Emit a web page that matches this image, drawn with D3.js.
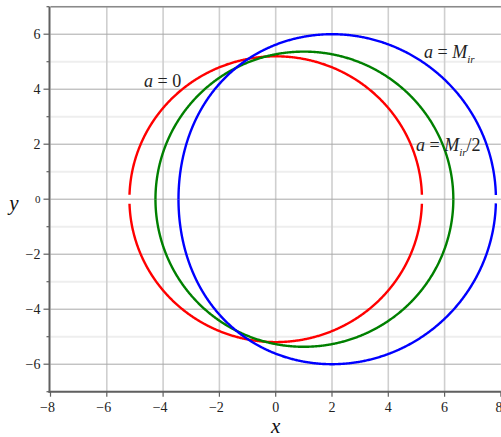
<!DOCTYPE html>
<html>
<head>
<meta charset="utf-8">
<script src="https://cdn.jsdelivr.net/npm/d3@7"></script>
<style>
  html, body { margin: 0; padding: 0; background: #fff; }
  svg { display: block; }
  text { font-family: "Liberation Serif", "Times New Roman", serif; }
</style>
</head>
<body>
<svg id="chart" width="501" height="437"></svg>
<script>
// Shadow outlines of a rotating black hole, spin given in units of the irreducible mass
const spins = [0, 0.5, 1];                       // a / M_ir
const seriesColors = ["#ff0000", "#008000", "#0000ff"];
const tipGaps = [[0.14, 0.14], [0, 0], [0, 0.14]]; // unplotted half-height at left/right tips
const xTicks = [-8, -6, -4, -2, 0, 2, 4, 6, 8];
const yTicks = [-6, -4, -2, 0, 2, 4, 6];
const xDomain = [-8, 8];
const yDomain = [-7, 7];

const svg = d3.select("#chart");
const x = d3.scaleLinear().domain(xDomain).range([50.5, 500.9]);
const y = d3.scaleLinear().domain(yDomain).range([391.7, 6.7]);

// grid
const grid = svg.append("g");
grid.selectAll(".hminor").data(d3.range(-7, 8).filter(v => v % 2 !== 0))
  .join("line")
  .attr("x1", x(-8)).attr("x2", x(8))
  .attr("y1", d => y(d)).attr("y2", d => y(d))
  .attr("stroke", "#eeeeee").attr("stroke-width", 2);
grid.selectAll(".vmajor").data(xTicks.filter(v => v > -8 && v < 8))
  .join("line")
  .attr("x1", d => x(d)).attr("x2", d => x(d))
  .attr("y1", y(7)).attr("y2", y(-7))
  .attr("stroke", "#cfcfcf").attr("stroke-width", 1.6);
grid.selectAll(".hmajor").data(yTicks)
  .join("line")
  .attr("x1", x(-8)).attr("x2", x(8))
  .attr("y1", d => y(d)).attr("y2", d => y(d))
  .attr("stroke", "#a8a8a8").attr("stroke-width", 1);

// frame top
svg.append("line")
  .attr("x1", x(-8)).attr("x2", x(8)).attr("y1", y(7)).attr("y2", y(7))
  .attr("stroke", "#8a8a8a").attr("stroke-width", 1.5);

// shadow curve (upper half, left tip to right tip) for spin a in units of M_ir = 1
function shadowUpper(a) {
  const M = 1 / Math.sqrt(1 - a * a / 4);
  const pts = [];
  const n = 600;
  if (a === 0) {
    const R = 3 * Math.sqrt(3) * M;
    for (let i = 0; i <= n; i++) {
      const t = Math.PI * (1 - i / n);
      pts.push([R * Math.cos(t), R * Math.sin(t)]);
    }
    return pts;
  }
  const s = a / M;
  const rPro = 2 * (1 + Math.cos(2 / 3 * Math.acos(-s)));
  const rRet = 2 * (1 + Math.cos(2 / 3 * Math.acos(s)));
  for (let i = 0; i <= n; i++) {
    const r = rPro + (rRet - rPro) * (1 - Math.cos(Math.PI * i / n)) / 2;
    const xi = (r * r * (3 - r) - s * s * (r + 1)) / (s * (r - 1));
    const eta = r * r * r * (4 * s * s - r * (r - 3) * (r - 3)) / (s * s * (r - 1) * (r - 1));
    pts.push([-xi * M, Math.sqrt(Math.max(eta, 0)) * M]);
  }
  return pts;
}

const line = d3.line().x(d => x(d[0])).y(d => y(d[1]));
const curves = svg.append("g");
spins.forEach((a, i) => {
  let up = shadowUpper(a);
  const [gl, gr] = tipGaps[i];
  let lo = 0, hi = up.length - 1;
  while (gl > 0 && up[lo][1] < gl) lo++;
  while (gr > 0 && up[hi][1] < gr) hi--;
  up = up.slice(lo, hi + 1);
  [1, -1].forEach(sg => {
    curves.append("path")
      .attr("d", line(up.map(p => [p[0], sg * p[1]])))
      .attr("fill", "none")
      .attr("stroke", seriesColors[i])
      .attr("stroke-width", 2.4);
  });
});

// axes
const axisColor = "#606060";
svg.append("line").attr("x1", x(-8) - 1).attr("x2", x(-8) - 1).attr("y1", y(7)).attr("y2", y(-7) + 1)
  .attr("stroke", axisColor).attr("stroke-width", 2);
svg.append("line").attr("x1", x(-8) - 2).attr("x2", x(8)).attr("y1", y(-7)).attr("y2", y(-7))
  .attr("stroke", axisColor).attr("stroke-width", 2);

const fmt = v => (v < 0 ? "\u2212" + Math.abs(v) : String(v));
const ticks = svg.append("g");
ticks.selectAll(".yt").data(d3.range(-7, 8))
  .join("line")
  .attr("x1", d => x(-8) - (d % 2 === 0 ? 7 : 4)).attr("x2", x(-8) - 1)
  .attr("y1", d => y(d)).attr("y2", d => y(d))
  .attr("stroke", axisColor).attr("stroke-width", 1.2);
ticks.selectAll(".xt").data(xTicks)
  .join("line")
  .attr("x1", d => x(d)).attr("x2", d => x(d))
  .attr("y1", y(-7)).attr("y2", y(-7) + 5)
  .attr("stroke", axisColor).attr("stroke-width", 1.2);

ticks.selectAll(".yl").data(yTicks)
  .join("text")
  .attr("x", x(-8) - 10).attr("y", d => y(d))
  .attr("dy", "0.35em").attr("text-anchor", "end")
  .attr("font-size", d => d === 0 ? 11 : 14).attr("fill", "#222")
  .text(fmt);
ticks.selectAll(".xl").data(xTicks)
  .join("text")
  .attr("x", d => x(d) - (d < 0 ? 3 : 0) - (d === 8 ? 2 : 0)).attr("y", y(-7) + 15)
  .attr("dy", "0.35em").attr("text-anchor", "middle")
  .attr("font-size", 14).attr("fill", "#222")
  .text(fmt);

// axis titles
svg.append("text").attr("x", x(0)).attr("y", 433).attr("text-anchor", "middle")
  .attr("font-size", 21).attr("font-style", "italic").attr("fill", "#111").text("x");
svg.append("text").attr("x", 14).attr("y", 210).attr("text-anchor", "middle")
  .attr("font-size", 21).attr("font-style", "italic").attr("fill", "#111").text("y");

// curve labels
function spinLabel(px, py, parts) {
  const t = svg.append("text").attr("x", px).attr("y", py).attr("font-size", 18).attr("fill", "#222");
  parts.forEach(p => {
    const ts = t.append("tspan").text(p.s);
    if (p.i) ts.attr("font-style", "italic");
    if (p.sub) ts.attr("font-size", 11).attr("dy", p.dy);
    else if (p.dy) ts.attr("dy", p.dy);
  });
}
spinLabel(144, 87, [{ s: "a", i: 1 }, { s: " = 0" }]);
spinLabel(424, 58, [{ s: "a", i: 1 }, { s: " = " }, { s: "M", i: 1 }, { s: "ir", i: 1, sub: 1, dy: 5 }]);
spinLabel(416, 151, [{ s: "a", i: 1 }, { s: " = " }, { s: "M", i: 1 }, { s: "ir", i: 1, sub: 1, dy: 5 }, { s: "/2", dy: -5 }]);
</script>
</body>
</html>
